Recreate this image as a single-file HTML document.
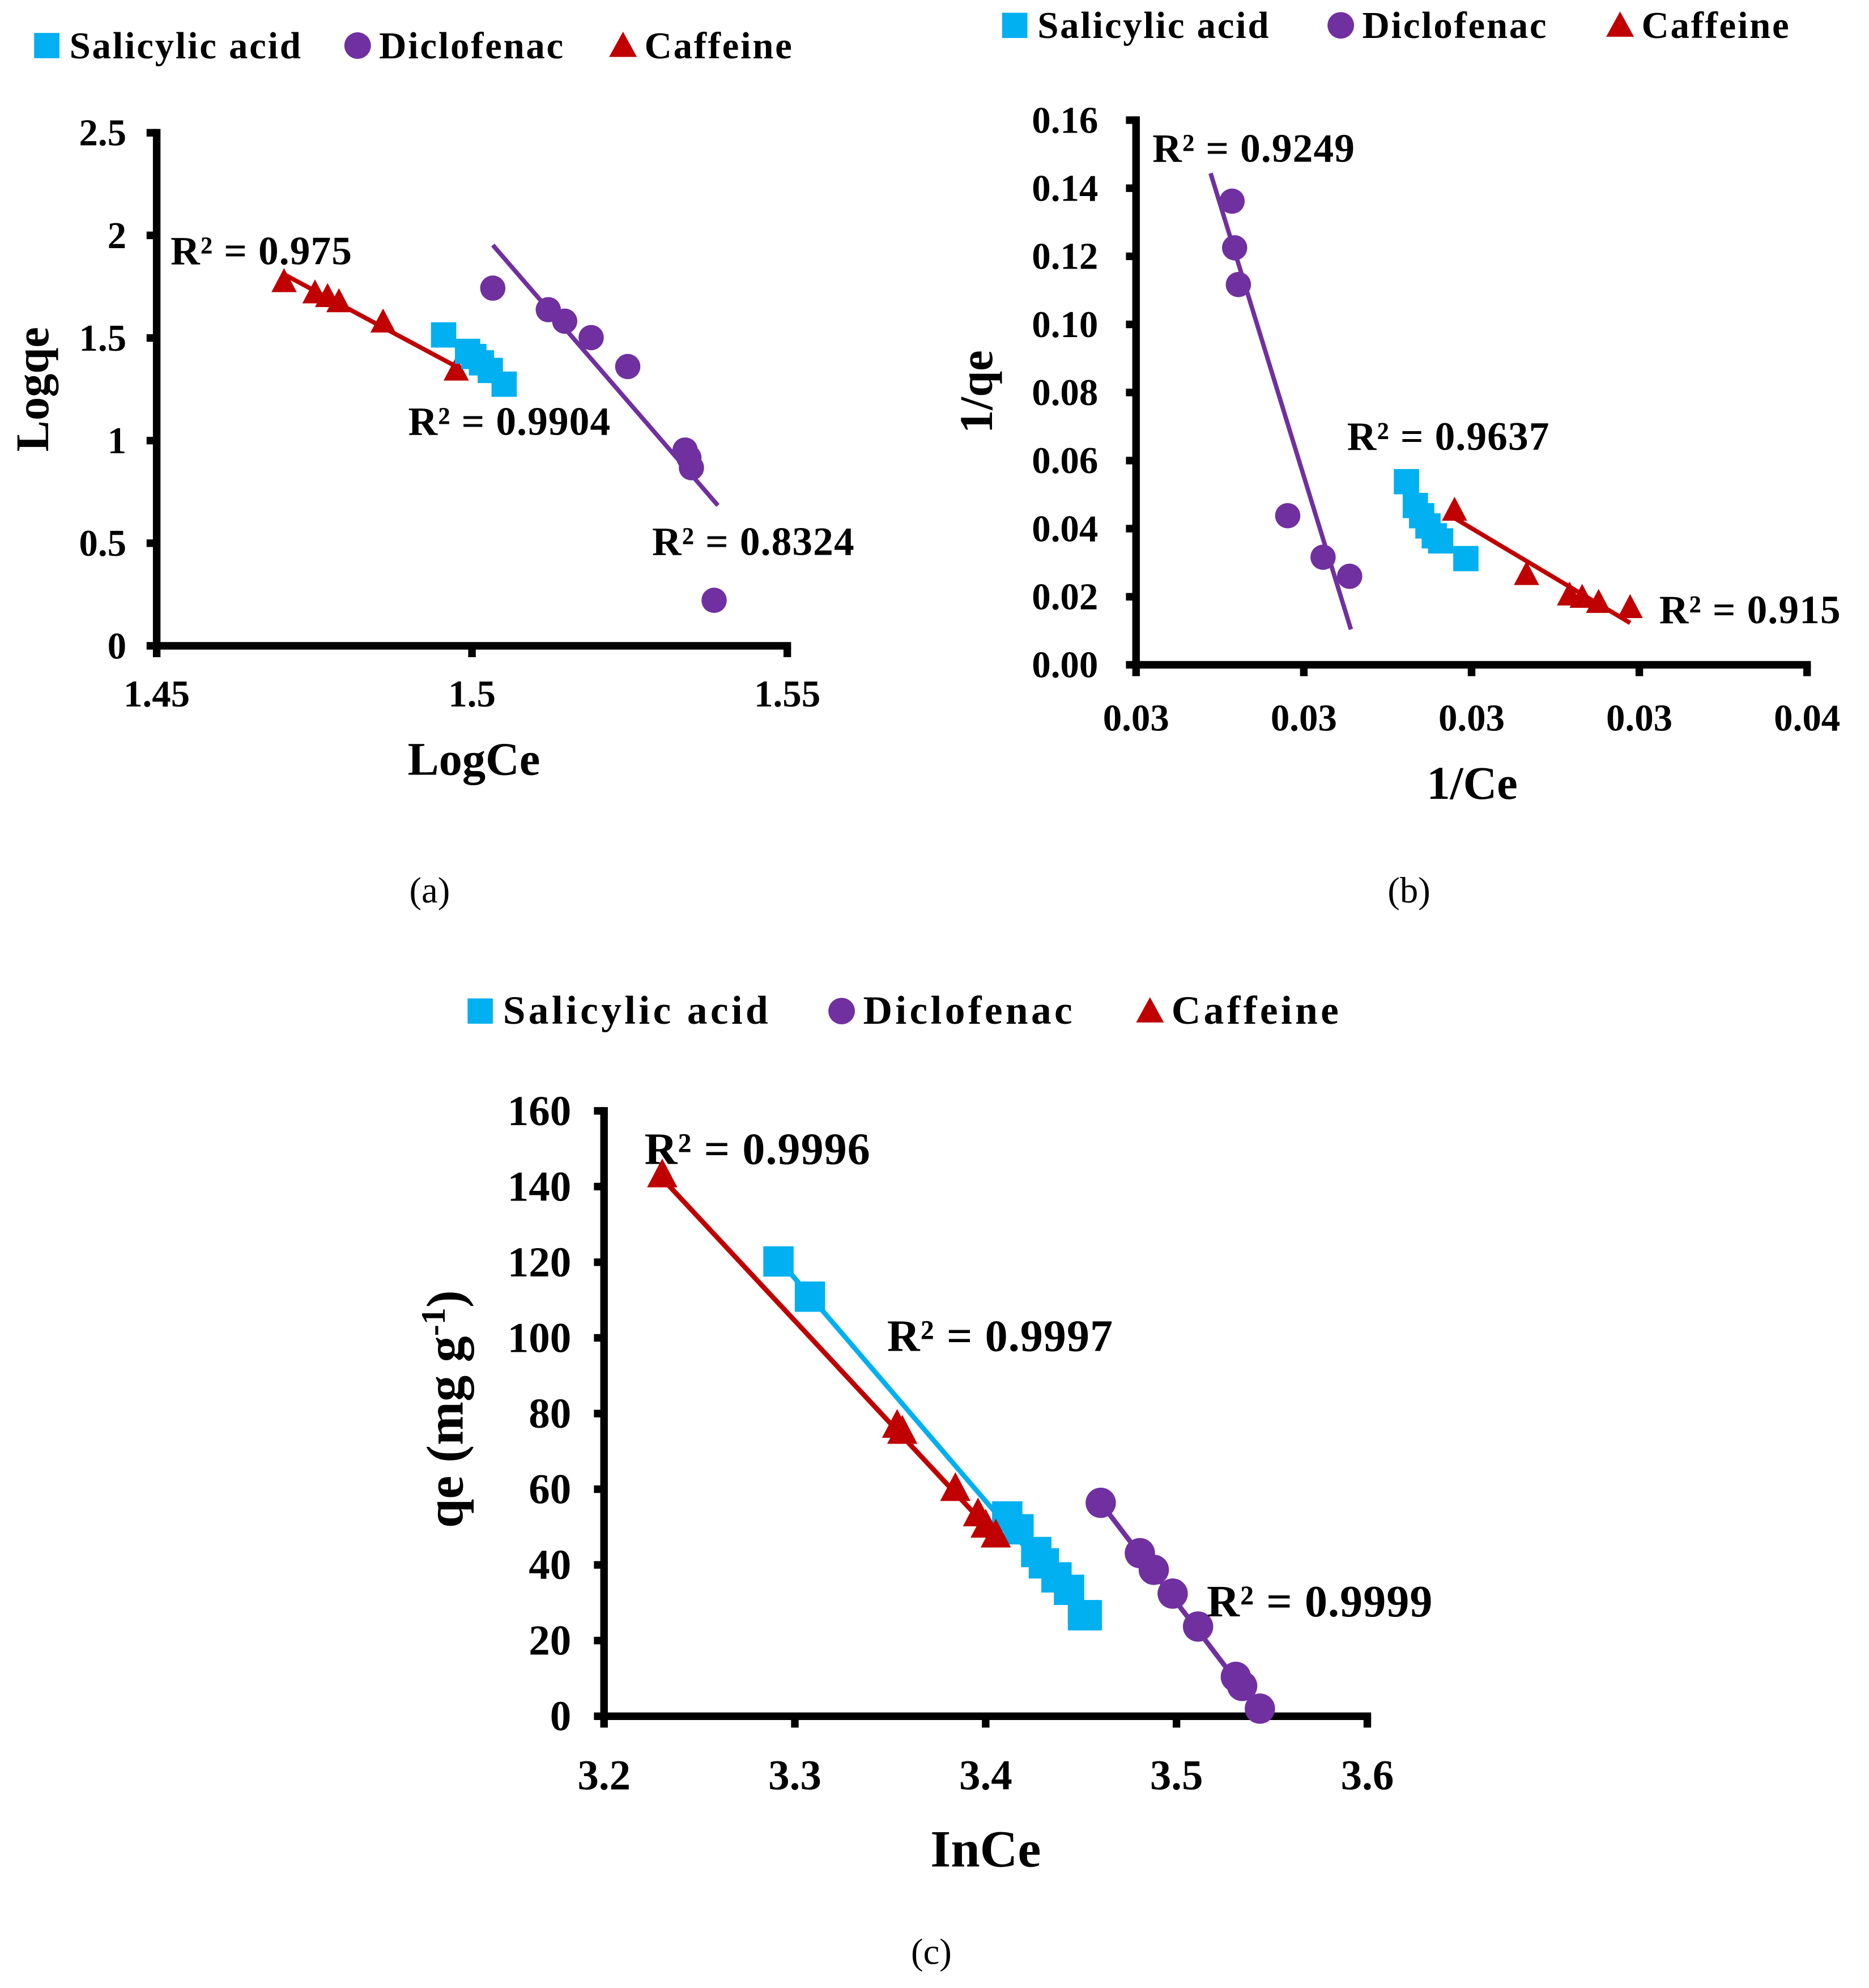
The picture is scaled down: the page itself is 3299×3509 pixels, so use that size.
<!DOCTYPE html>
<html><head><meta charset="utf-8"><style>
html,body{margin:0;padding:0;background:#fff;}
svg{display:block;font-family:"Liberation Serif","DejaVu Serif",serif;}
svg text{font-family:"Liberation Serif","DejaVu Serif",serif;}
</style></head><body>
<svg id="fig" width="3299" height="3509" viewBox="0 0 1479 1573" font-family="Liberation Serif, DejaVu Serif, serif" xmlns="http://www.w3.org/2000/svg"></svg>
<script>
// ---------- Panel (a) data: Freundlich ----------
const aSalX=[1.4955,1.4993,1.5003,1.5015,1.5029,1.5051];
const aSalY=[1.515,1.435,1.41,1.379,1.342,1.275];
const aDicX=[1.5033,1.5121,1.5147,1.5189,1.5247,1.5338,1.5344,1.5348,1.5384];
const aDicY=[1.743,1.638,1.582,1.502,1.361,0.954,0.917,0.868,0.222];
const aCafX=[1.4702,1.4751,1.4771,1.4789,1.4859,1.4975];
const aCafY=[1.773,1.718,1.70,1.675,1.576,1.342];
const aDicLineX=[1.5033,1.5390]; const aDicLineY=[1.953,0.684];
const aCafLineX=[1.4702,1.4975]; const aCafLineY=[1.810,1.361];
const aXTicks=[1.45,1.5,1.55]; const aXTickLabels=["1.45","1.5","1.55"];
const aYTicks=[0,0.5,1,1.5,2,2.5]; const aYTickLabels=["0","0.5","1","1.5","2","2.5"];
// ---------- Panel (b) data: Langmuir ----------
const bSalX=[0.034030,0.034162,0.034256,0.034350,0.034444,0.034539,0.034915];
const bSalY=[0.0538,0.0468,0.0438,0.0408,0.0379,0.0364,0.0312];
const bDicX=[0.031431,0.031469,0.031525,0.032260,0.032787,0.033183];
const bDicY=[0.1362,0.1225,0.1117,0.0438,0.0316,0.0260];
const bCafX=[0.034746,0.035819,0.036460,0.036648,0.036893,0.037363];
const bCafY=[0.0453,0.0264,0.0204,0.0197,0.0182,0.0167];
const bDicLineX=[0.031111,0.033202]; const bDicLineY=[0.1444,0.0104];
const bCafLineX=[0.034746,0.037363]; const bCafLineY=[0.0431,0.0123];
const bXTicks=[0.03,0.0325,0.035,0.0375,0.04]; const bXTickLabels=["0.03","0.03","0.03","0.03","0.04"];
const bYTicks=[0,0.02,0.04,0.06,0.08,0.10,0.12,0.14,0.16];
const bYTickLabels=["0.00","0.02","0.04","0.06","0.08","0.10","0.12","0.14","0.16"];
// ---------- Panel (c) data: Temkin ----------
const cSalX=[3.2914,3.3079,3.4113,3.4172,3.4265,3.4305,3.4371,3.4437,3.4510,3.4530];
const cSalY=[120.2,110.9,52.8,49.4,43.4,40.4,36.7,33.4,26.7,26.7];
const cDicX=[3.4603,3.4808,3.4881,3.4980,3.5113,3.5311,3.5344,3.5437];
const cDicY=[56.4,43.1,38.7,32.4,23.7,10.4,8.0,2.0];
const cCafX=[3.2305,3.3536,3.3563,3.3841,3.3960,3.4000,3.4053];
const cCafY=[143.0,76.8,75.2,60.1,53.4,50.4,47.8];
const cSalLineX=[3.2914,3.4517]; const cSalLineY=[120.8,26.4];
const cDicLineX=[3.4603,3.5444]; const cDicLineY=[56.4,0.7];
const cCafLineX=[3.2278,3.4066]; const cCafLineY=[143.6,46.8];
const cXTicks=[3.2,3.3,3.4,3.5,3.6]; const cXTickLabels=["3.2","3.3","3.4","3.5","3.6"];
const cYTicks=[0,20,40,60,80,100,120,140,160];
const cYTickLabels=["0","20","40","60","80","100","120","140","160"];

const NS="http://www.w3.org/2000/svg";
const svg=document.getElementById('fig');
const BLUE="#00b0f0", PURPLE="#7030a0", RED="#c00000";
const FF="Liberation Serif, DejaVu Serif, serif";
function mk(tag,attrs,parent){const e=document.createElementNS(NS,tag);for(const k in attrs)e.setAttribute(k,attrs[k]);(parent||svg).appendChild(e);return e;}
function txt(s,attrs,parent){attrs['font-family']=FF;const e=mk('text',attrs,parent);e.textContent=s;return e;}

function scale(d0,d1,r0,r1){return v=>r0+(v-d0)/(d1-d0)*(r1-r0);}

function marker(g,kind,x,y,size){
  let e;
  if(kind==='sq'){e=mk('rect',{x:x-size,y:y-size,width:2*size,height:2*size,fill:BLUE},g);}
  else if(kind==='ci'){e=mk('circle',{cx:x,cy:y,r:size,fill:PURPLE},g);}
  else {e=mk('polygon',{points:`${x},${y-size*1.1} ${x-size},${y+size*0.8} ${x+size},${y+size*0.8}`,fill:RED},g);}
  return e;
}

function legend(x0,y,gap1,gap2,fs,ls){
  const g=mk('g',{});
  
  
  const r=mk('rect',{x:x0,y:y-20,width:20,height:20,fill:BLUE},g);
  
  const t1=txt('Salicylic acid',{x:x0+28,y:y,'font-size':fs,'font-weight':'bold','letter-spacing':ls},g);
  
  const c=mk('circle',{cx:x0+gap1,cy:y-10,r:10.5,fill:PURPLE},g);
  
  const t2=txt('Diclofenac',{x:x0+gap1+17,y:y,'font-size':fs,'font-weight':'bold','letter-spacing':ls},g);
  
  const tx=x0+gap2;
  const p=mk('polygon',{points:`${tx},${y-21} ${tx-11},${y-1} ${tx+11},${y-1}`,fill:RED},g);
  
  const t3=txt('Caffeine',{x:tx+17,y:y,'font-size':fs,'font-weight':'bold','letter-spacing':ls},g);
  
}

function panel(cfg){
  const k=cfg.fs||1;
  const g=mk('g',{});
  
  
  const X=scale(cfg.xd[0],cfg.xd[1],cfg.px[0],cfg.px[1]);
  const Y=scale(cfg.yd[0],cfg.yd[1],cfg.py[0],cfg.py[1]);
  const ya=mk('line',{x1:cfg.px[0],y1:cfg.py[0]+2,x2:cfg.px[0],y2:cfg.py[1]-3,stroke:'#000','stroke-width':6},g);
  
  const xa=mk('line',{x1:cfg.px[0]-3,y1:cfg.py[0],x2:cfg.px[1]+3,y2:cfg.py[0],stroke:'#000','stroke-width':6},g);
  
  cfg.yt.forEach((v,i)=>{
    const y=Y(v);
    const tk=mk('line',{x1:cfg.px[0]-8,y1:y,x2:cfg.px[0],y2:y,stroke:'#000','stroke-width':6},g);
    
    const t=txt(cfg.ytl[i],{x:cfg.px[0]-cfg.ylOff,y:y+10*k,'font-size':30*k,'font-weight':'bold','text-anchor':'end'},g);
    
  });
  cfg.xt.forEach((v,i)=>{
    const x=X(v);
    const tk=mk('line',{x1:x,y1:cfg.py[0],x2:x,y2:cfg.py[0]+9,stroke:'#000','stroke-width':6},g);
    
    const t=txt(cfg.xtl[i],{x:x,y:cfg.py[0]+cfg.xlOff,'font-size':30*k,'font-weight':'bold','text-anchor':'middle'},g);
    
  });
  cfg.lines.forEach(L=>{
    const l=mk('line',{x1:X(L.x[0]),y1:Y(L.y[0]),x2:X(L.x[1]),y2:Y(L.y[1]),stroke:L.c,'stroke-width':3.5*k},g);
    
  });
  cfg.series.forEach(S=>{
    S.x.forEach((xv,i)=>{
      const m=marker(g,S.k,X(xv),Y(S.y[i]),S.s);
      
      
    });
  });
  cfg.r2.forEach(r=>{
    const t=txt(r.t,{x:r.x,y:r.y,'font-size':32*k,'font-weight':'bold','letter-spacing':'0.5'},g);
    
  });
  const xt=txt(cfg.xTitle,{x:cfg.xT[0],y:cfg.xT[1],'font-size':37*k,'font-weight':'bold','text-anchor':'middle'},g);
  
  const yt=mk('text',{transform:`translate(${cfg.yT[0]},${cfg.yT[1]}) rotate(-90)`,'font-size':37*k,'font-weight':'bold','text-anchor':'middle','font-family':FF},g);
  
  if(cfg.sup){
    yt.appendChild(document.createTextNode('qe (mg g'));
    const ts=document.createElementNS(NS,'tspan');ts.setAttribute('dy','-14');ts.setAttribute('font-size','27');ts.textContent='-1';yt.appendChild(ts);
    const ts2=document.createElementNS(NS,'tspan');ts2.setAttribute('dy','14');ts2.textContent=')';yt.appendChild(ts2);
  } else yt.textContent=cfg.yTitle;
  const cap=txt(cfg.cap[2],{x:cfg.cap[0],y:cfg.cap[1],'font-size':29,'text-anchor':'middle'},svg);
  
}

legend(27,46,256,466,30,1.2);
legend(793,30,268,489,30,1.2);
legend(370,810,296,540,32,2.4);

panel({name:'panel-a-freundlich',xd:[1.45,1.55],px:[124,623],yd:[0,2.5],py:[511,105],
  xt:aXTicks,xtl:aXTickLabels,yt:aYTicks,ytl:aYTickLabels,ylOff:24,xlOff:48,
  lines:[{x:aDicLineX,y:aDicLineY,c:PURPLE,name:'diclofenac-trendline'},{x:aCafLineX,y:aCafLineY,c:RED,name:'caffeine-trendline'}],
  series:[{x:aCafX,y:aCafY,k:'tr',s:10,name:'caffeine-point'},{x:aSalX,y:aSalY,k:'sq',s:10,name:'salicylic-point'},{x:aDicX,y:aDicY,k:'ci',s:10,name:'diclofenac-point'}],
  r2:[{t:'R² = 0.975',x:135,y:209},{t:'R² = 0.9904',x:323,y:344},{t:'R² = 0.8324',x:516,y:439}],
  xTitle:'LogCe',xT:[375,613],yTitle:'Logqe',yT:[38,308],cap:[340,714,'(a)']});

panel({name:'panel-b-langmuir',xd:[0.03,0.04],px:[899,1430],yd:[0,0.16],py:[526,95],
  xt:bXTicks,xtl:bXTickLabels,yt:bYTicks,ytl:bYTickLabels,ylOff:30,xlOff:52,
  lines:[{x:bDicLineX,y:bDicLineY,c:PURPLE,name:'diclofenac-trendline'},{x:bCafLineX,y:bCafLineY,c:RED,name:'caffeine-trendline'}],
  series:[{x:bSalX,y:bSalY,k:'sq',s:10,name:'salicylic-point'},{x:bCafX,y:bCafY,k:'tr',s:10,name:'caffeine-point'},{x:bDicX,y:bDicY,k:'ci',s:10,name:'diclofenac-point'}],
  r2:[{t:'R² = 0.9249',x:912,y:128},{t:'R² = 0.9637',x:1066,y:356},{t:'R² = 0.915',x:1313,y:493}],
  xTitle:'1/Ce',xT:[1165,632],yTitle:'1/qe',yT:[785,310],cap:[1115,714,'(b)']});

panel({name:'panel-c-temkin',fs:1.12,xd:[3.2,3.6],px:[478,1082],yd:[0,160],py:[1358,879],
  xt:cXTicks,xtl:cXTickLabels,yt:cYTicks,ytl:cYTickLabels,ylOff:26,xlOff:58,
  lines:[{x:cSalLineX,y:cSalLineY,c:BLUE,name:'salicylic-trendline'},{x:cCafLineX,y:cCafLineY,c:RED,name:'caffeine-trendline'},{x:cDicLineX,y:cDicLineY,c:PURPLE,name:'diclofenac-trendline'}],
  series:[{x:cSalX,y:cSalY,k:'sq',s:12,name:'salicylic-point'},{x:cCafX,y:cCafY,k:'tr',s:12,name:'caffeine-point'},{x:cDicX,y:cDicY,k:'ci',s:12,name:'diclofenac-point'}],
  r2:[{t:'R² = 0.9996',x:510,y:921},{t:'R² = 0.9997',x:702,y:1069},{t:'R² = 0.9999',x:955,y:1279}],
  xTitle:'InCe',xT:[780,1477],yTitle:'',sup:true,yT:[366,1115],cap:[737,1554,'(c)']});
</script>
</body></html>
